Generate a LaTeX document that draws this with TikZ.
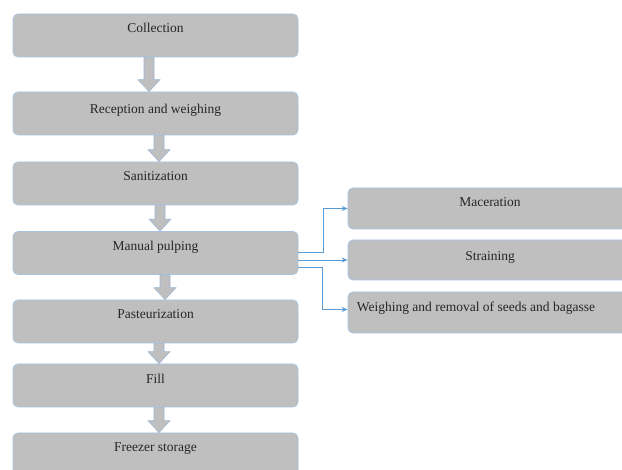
\documentclass[tikz,border=0pt]{standalone}
\usepackage{fontspec}
\setmainfont{Liberation Serif}
\usetikzlibrary{calc,arrows.meta}
\definecolor{boxfill}{HTML}{BFBFBF}
\definecolor{boxline}{HTML}{A8C3E0}
\definecolor{connblue}{HTML}{5B9BD5}
\definecolor{arrline}{HTML}{9DB7D5}
\newcommand\blkarrow[3]{%
  \draw[blockarrow] let \p1=([xshift=#3]#1.south), \p2=([xshift=#3]#2.north) in
    (\x1-5pt,\y1) -- (\x1-5pt,\y2+12pt) -- (\x1-11pt,\y2+12pt) -- (\x1,\y2)
    -- (\x1+11pt,\y2+12pt) -- (\x1+5pt,\y2+12pt) -- (\x1+5pt,\y1) -- cycle;}
\begin{document}
\begin{tikzpicture}[x=1pt,y=-1pt,
  stagebox/.style={draw=boxline, fill=boxfill, rounded corners=5pt, line width=0.8pt,
    minimum width=285pt, minimum height=43pt, inner sep=0pt},
  sidebox/.style={stagebox, minimum width=284pt, minimum height=41pt},
  lbl/.style={font=\fontsize{13.5}{16}\selectfont, text=black!85, inner sep=0pt, anchor=base},
  blockarrow/.style={draw=arrline, fill=boxfill, line width=0.6pt},
  conn/.style={draw=connblue, line width=0.9pt, -{Stealth[length=6pt,width=5pt]}}]
\clip (0,0) rectangle (622,470);
\fill[white] (0,0) rectangle (622,470);
% main column
\node[stagebox] (b1) at (155.5,35.5) {};
\node[stagebox] (b2) at (155.5,113.5) {};
\node[stagebox] (b3) at (155.5,183.5) {};
\node[stagebox] (b4) at (155.5,253) {};
\node[stagebox] (b5) at (155.5,321.5) {};
\node[stagebox] (b6) at (155.5,385.5) {};
\node[stagebox] (b7) at (155.5,454.5) {};
\node[lbl] (t1) at ([yshift=-19pt]b1.north) {Collection};
\node[lbl] (t2) at ([yshift=-22pt]b2.north) {Reception and weighing};
\node[lbl] (t3) at ([yshift=-19pt]b3.north) {Sanitization};
\node[lbl] (t4) at ([yshift=-19pt]b4.north) {Manual pulping};
\node[lbl] (t5) at ([yshift=-19pt]b5.north) {Pasteurization};
\node[lbl] (t6) at ([yshift=-20pt]b6.north) {Fill};
\node[lbl] (t7) at ([yshift=-19pt]b7.north) {Freezer storage};
% side boxes
\node[sidebox] (r1) at (490,208.5) {};
\node[sidebox, minimum height=40pt] (r2) at (490,260) {};
\node[sidebox] (r3) at (490,312.5) {};
\node[lbl] (s1) at ([yshift=-19pt]r1.north) {Maceration};
\node[lbl] (s2) at ([yshift=-21pt]r2.north) {Straining};
\node[lbl] (s3) at ([xshift=-14pt,yshift=-20pt]r3.north) {Weighing and removal of seeds and bagasse};
% block arrows
\blkarrow{b1}{b2}{-6.5pt}
\blkarrow{b2}{b3}{3.5pt}
\blkarrow{b3}{b4}{4.5pt}
\blkarrow{b4}{b5}{9.5pt}
\blkarrow{b5}{b6}{3.5pt}
\blkarrow{b6}{b7}{3.5pt}
% connectors
\draw[conn] ([yshift=1pt]b4.east) -- ++(25,0) |- (r1.west);
\draw[conn] ([yshift=-7pt]b4.east) -- (r2.west);
\draw[conn] ([yshift=-14pt]b4.east) -- ++(24,0) |- ([yshift=3pt]r3.west);
\end{tikzpicture}
\end{document}
